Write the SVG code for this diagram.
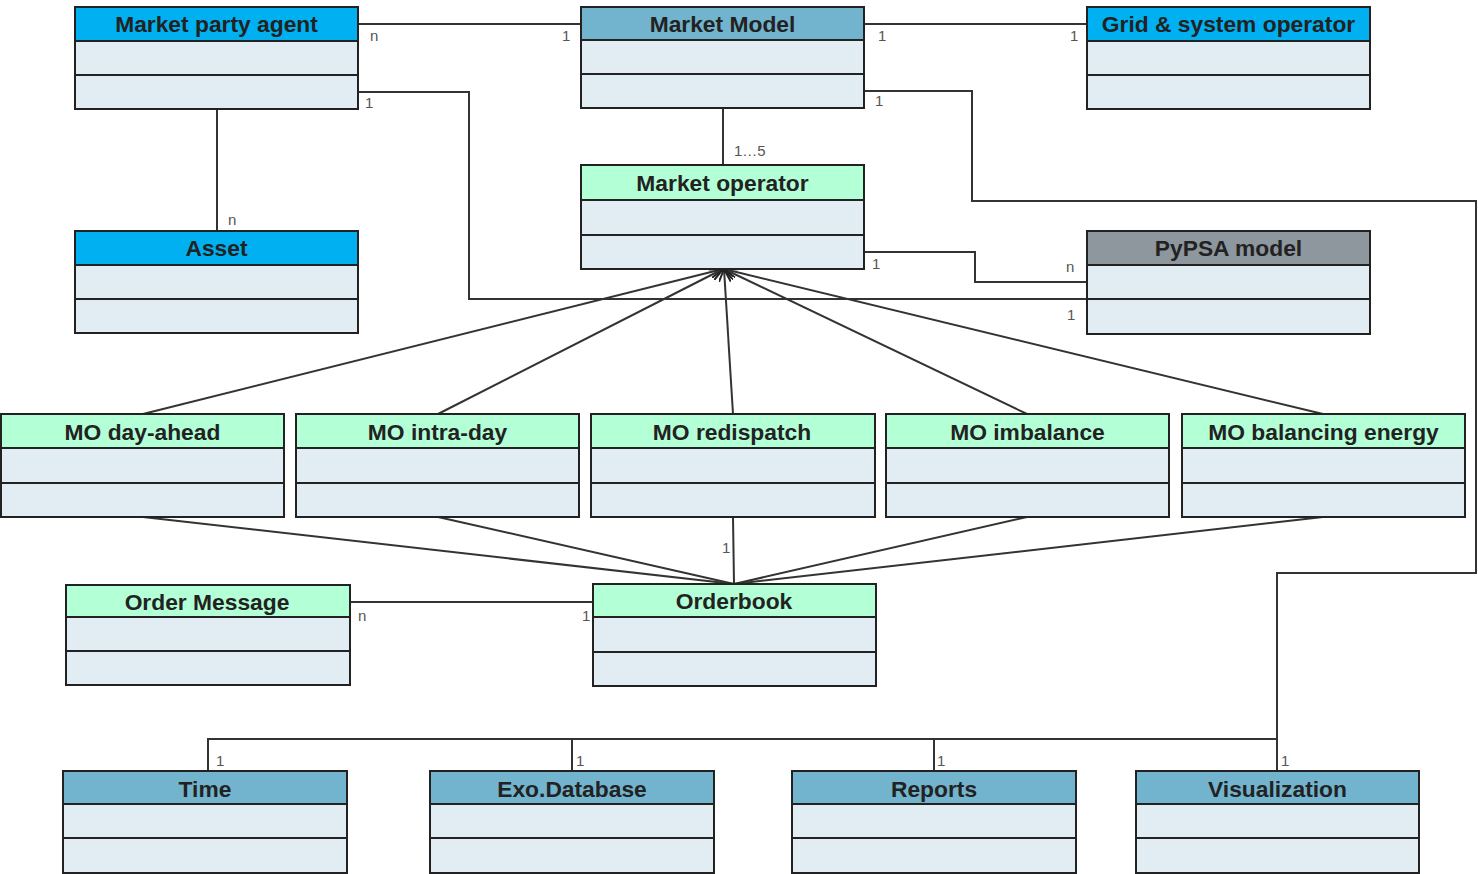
<svg xmlns="http://www.w3.org/2000/svg" width="1478" height="874" viewBox="0 0 1478 874">
<defs>
<style>
.box{stroke:#222;stroke-width:2}
.body{fill:#E1EDF3}
.hb{fill:#00B0F0}
.hm{fill:#72B4CD}
.hg{fill:#B3FFD6}
.hp{fill:#8E969E}
.t{font-family:"Liberation Sans",Arial,sans-serif;font-weight:bold;font-size:22.8px;fill:#222;text-anchor:middle}
.l{font-family:"Liberation Sans",Arial,sans-serif;font-size:15px;fill:#555}
.c{fill:none;stroke:#333;stroke-width:2}
</style>
<marker id="arr" viewBox="0 0 14 12" refX="13" refY="6" markerWidth="14" markerHeight="12" markerUnits="userSpaceOnUse" orient="auto">
<path d="M0,0 L13,6 L0,12" fill="none" stroke="#222" stroke-width="2"/>
</marker>
</defs>
<rect width="1478" height="874" fill="#fff"/>
<g id="connectors">
<path class="c" d="M358,24 H581"/>
<path class="c" d="M864,24 H1087"/>
<path class="c" d="M358,92 H469 V299 H1087"/>
<path class="c" d="M864,91 H972 V201 H1476 V573 H1277 V771"/>
<path class="c" d="M723,108 V165"/>
<path class="c" d="M217,109 V231"/>
<path class="c" d="M864,252 H975 V282 H1087"/>
<path class="c" d="M143,414 L723,269" marker-end="url(#arr)"/>
<path class="c" d="M438,414 L723,269" marker-end="url(#arr)"/>
<path class="c" d="M733,414 L724,269" marker-end="url(#arr)"/>
<path class="c" d="M1027,414 L724,269" marker-end="url(#arr)"/>
<path class="c" d="M1323,414 L724,269" marker-end="url(#arr)"/>
<path class="c" d="M143,517 L734,584"/>
<path class="c" d="M438,517 L734,584"/>
<path class="c" d="M733,517 L734,584"/>
<path class="c" d="M1027,517 L734,584"/>
<path class="c" d="M1323,517 L734,584"/>
<path class="c" d="M350,602 H593"/>
<path class="c" d="M208,771 V739 H1277"/>
<path class="c" d="M572,739 V771"/>
<path class="c" d="M934,739 V771"/>
<g>
<text class="l" x="370" y="41">n</text>
<text class="l" x="562" y="41">1</text>
<text class="l" x="878" y="41">1</text>
<text class="l" x="1070" y="41">1</text>
<text class="l" x="365" y="108">1</text>
<text class="l" x="1067" y="320">1</text>
<text class="l" x="875" y="106">1</text>
<text class="l" x="1281" y="766">1</text>
<text class="l" x="734" y="156">1…5</text>
<text class="l" x="228" y="225">n</text>
<text class="l" x="872" y="269">1</text>
<text class="l" x="1066" y="272">n</text>
<text class="l" x="722" y="553">1</text>
<text class="l" x="358" y="621">n</text>
<text class="l" x="582" y="621">1</text>
<text class="l" x="216" y="766">1</text>
<text class="l" x="576" y="766">1</text>
<text class="l" x="937" y="766">1</text>
</g>
</g>
<g id="market-party-agent">
<rect class="box hb" x="75" y="7" width="283" height="34"/>
<rect class="box body" x="75" y="41" width="283" height="34"/>
<rect class="box body" x="75" y="75" width="283" height="34"/>
<text class="t" x="216.5" y="32">Market party agent</text>
</g>
<g id="market-model">
<rect class="box hm" x="581" y="7" width="283" height="33"/>
<rect class="box body" x="581" y="40" width="283" height="34"/>
<rect class="box body" x="581" y="74" width="283" height="34"/>
<text class="t" x="722.5" y="32">Market Model</text>
</g>
<g id="grid-system-operator">
<rect class="box hb" x="1087" y="7" width="283" height="34"/>
<rect class="box body" x="1087" y="41" width="283" height="34"/>
<rect class="box body" x="1087" y="75" width="283" height="34"/>
<text class="t" x="1228.5" y="32">Grid &amp; system operator</text>
</g>
<g id="market-operator">
<rect class="box hg" x="581" y="165" width="283" height="35"/>
<rect class="box body" x="581" y="200" width="283" height="35"/>
<rect class="box body" x="581" y="235" width="283" height="34"/>
<text class="t" x="722.5" y="191">Market operator</text>
</g>
<g id="asset">
<rect class="box hb" x="75" y="231" width="283" height="34"/>
<rect class="box body" x="75" y="265" width="283" height="34"/>
<rect class="box body" x="75" y="299" width="283" height="34"/>
<text class="t" x="216.5" y="256">Asset</text>
</g>
<g id="pypsa-model">
<rect class="box hp" x="1087" y="231" width="283" height="34"/>
<rect class="box body" x="1087" y="265" width="283" height="34"/>
<rect class="box body" x="1087" y="299" width="283" height="35"/>
<text class="t" x="1228.5" y="256">PyPSA  model</text>
</g>
<g id="mo-day-ahead">
<rect class="box hg" x="1" y="414" width="283" height="34"/>
<rect class="box body" x="1" y="448" width="283" height="35"/>
<rect class="box body" x="1" y="483" width="283" height="34"/>
<text class="t" x="142.5" y="440">MO day-ahead</text>
</g>
<g id="mo-intra-day">
<rect class="box hg" x="296" y="414" width="283" height="34"/>
<rect class="box body" x="296" y="448" width="283" height="35"/>
<rect class="box body" x="296" y="483" width="283" height="34"/>
<text class="t" x="437.5" y="440">MO intra-day</text>
</g>
<g id="mo-redispatch">
<rect class="box hg" x="591" y="414" width="284" height="34"/>
<rect class="box body" x="591" y="448" width="284" height="35"/>
<rect class="box body" x="591" y="483" width="284" height="34"/>
<text class="t" x="732" y="440">MO redispatch</text>
</g>
<g id="mo-imbalance">
<rect class="box hg" x="886" y="414" width="283" height="34"/>
<rect class="box body" x="886" y="448" width="283" height="35"/>
<rect class="box body" x="886" y="483" width="283" height="34"/>
<text class="t" x="1027.5" y="440">MO imbalance</text>
</g>
<g id="mo-balancing-energy">
<rect class="box hg" x="1182" y="414" width="283" height="34"/>
<rect class="box body" x="1182" y="448" width="283" height="35"/>
<rect class="box body" x="1182" y="483" width="283" height="34"/>
<text class="t" x="1323.5" y="440">MO balancing energy</text>
</g>
<g id="order-message">
<rect class="box hg" x="66" y="585" width="284" height="32"/>
<rect class="box body" x="66" y="617" width="284" height="34"/>
<rect class="box body" x="66" y="651" width="284" height="34"/>
<text class="t" x="207" y="610">Order Message</text>
</g>
<g id="orderbook">
<rect class="box hg" x="593" y="584" width="283" height="33"/>
<rect class="box body" x="593" y="617" width="283" height="35"/>
<rect class="box body" x="593" y="652" width="283" height="34"/>
<text class="t" x="734" y="609">Orderbook</text>
</g>
<g id="time">
<rect class="box hm" x="63" y="771" width="284" height="33"/>
<rect class="box body" x="63" y="804" width="284" height="34"/>
<rect class="box body" x="63" y="838" width="284" height="35"/>
<text class="t" x="205" y="797">Time</text>
</g>
<g id="exo-database">
<rect class="box hm" x="430" y="771" width="284" height="33"/>
<rect class="box body" x="430" y="804" width="284" height="34"/>
<rect class="box body" x="430" y="838" width="284" height="35"/>
<text class="t" x="572" y="797">Exo.Database</text>
</g>
<g id="reports">
<rect class="box hm" x="792" y="771" width="284" height="33"/>
<rect class="box body" x="792" y="804" width="284" height="34"/>
<rect class="box body" x="792" y="838" width="284" height="35"/>
<text class="t" x="934" y="797">Reports</text>
</g>
<g id="visualization">
<rect class="box hm" x="1136" y="771" width="283" height="33"/>
<rect class="box body" x="1136" y="804" width="283" height="34"/>
<rect class="box body" x="1136" y="838" width="283" height="35"/>
<text class="t" x="1277.5" y="797">Visualization</text>
</g>
</svg>
